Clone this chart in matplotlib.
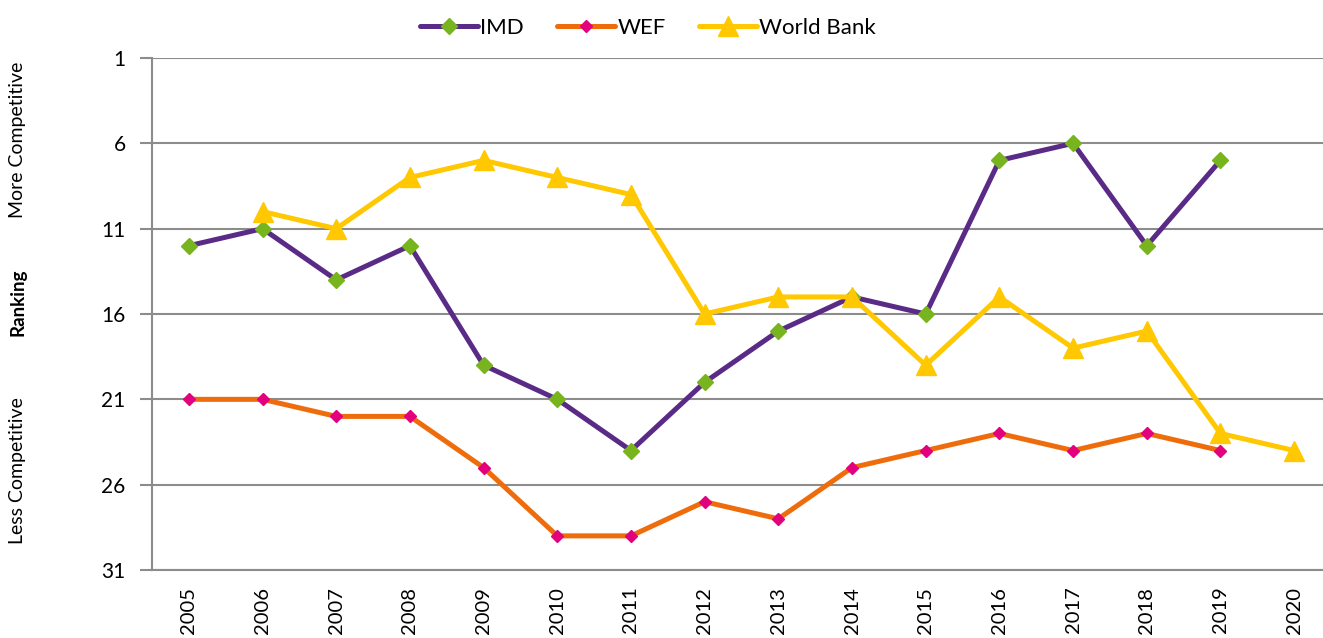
import matplotlib
matplotlib.use('AGG')
import matplotlib.pyplot as plt
import numpy as np

plt.rcParams['font.family'] = ['Lato', 'DejaVu Sans']

years = ['2005', '2006', '2007', '2008', '2009', '2010', '2011', '2012',
         '2013', '2014', '2015', '2016', '2017', '2018', '2019', '2020']
imd = [12, 11, 14, 12, 19, 21, 24, 20, 17, 15, 16, 7, 6, 12, 7, None]
wef = [21, 21, 22, 22, 25, 29, 29, 27, 28, 25, 24, 23, 24, 23, 24, None]
world_bank = [None, 10, 11, 8, 7, 8, 9, 16, 15, 15, 19, 15, 18, 17, 23, 24]
y_ticks = [1, 6, 11, 16, 21, 26, 31]


def to_arr(vals):
    return np.array([np.nan if v is None else v for v in vals], dtype=float)


x = np.arange(len(years))

fig = plt.figure(figsize=(13.23, 6.38), dpi=100)
ax = fig.add_axes([152 / 1323, 1 - 570 / 638, 1179 / 1323, 512 / 638])

ax.plot(x, to_arr(imd), color='#5a2a87', lw=3.6, marker='D', ms=8,
        mfc='#77b41e', mec='#77b41e', label='IMD', solid_capstyle='round')
ax.plot(x, to_arr(wef), color='#ee6c0c', lw=3.6, marker='D', ms=6.5,
        mfc='#e3007d', mec='#e3007d', label='WEF', solid_capstyle='round')
ax.plot(x, to_arr(world_bank), color='#ffc800', lw=3.6, marker='^', ms=15,
        mfc='#ffc800', mec='#ffc800', label='World Bank', solid_capstyle='round')

ax.set_xlim(-0.5, len(years) - 0.5)
ax.set_ylim(31, 1)
ax.set_yticks(y_ticks)
ax.set_yticklabels([str(t) for t in y_ticks], fontsize=15)
ax.set_xticks(x)
ax.set_xticklabels(years, rotation=90, fontsize=14.5, va='top')
ax.tick_params(axis='x', length=0, pad=12)
ax.tick_params(axis='y', length=9, width=1.5, color='#8c8c8c', pad=10)

ax.grid(axis='y', color='#8c8c8c', lw=1.5)
ax.set_axisbelow(True)
for side in ['top', 'right']:
    ax.spines[side].set_visible(False)
for side in ['left', 'bottom']:
    ax.spines[side].set_color('#8c8c8c')
    ax.spines[side].set_linewidth(1.5)

fig.text(18 / 1323, 1 - 140 / 638, 'More Competitive', rotation=90,
         ha='center', va='center', fontsize=14)
fig.text(18 / 1323, 1 - 302 / 638, 'Ranking', rotation=90,
         ha='center', va='center', fontsize=13.5, fontweight='bold')
fig.text(18 / 1323, 1 - 471 / 638, 'Less Competitive', rotation=90,
         ha='center', va='center', fontsize=14)

fig.legend(loc='center', bbox_to_anchor=(648 / 1323, 1 - 28 / 638), ncol=3,
           frameon=False, fontsize=16, handlelength=2.6, handletextpad=0.1,
           columnspacing=1.5)

plt.savefig('out.png', dpi=100)
